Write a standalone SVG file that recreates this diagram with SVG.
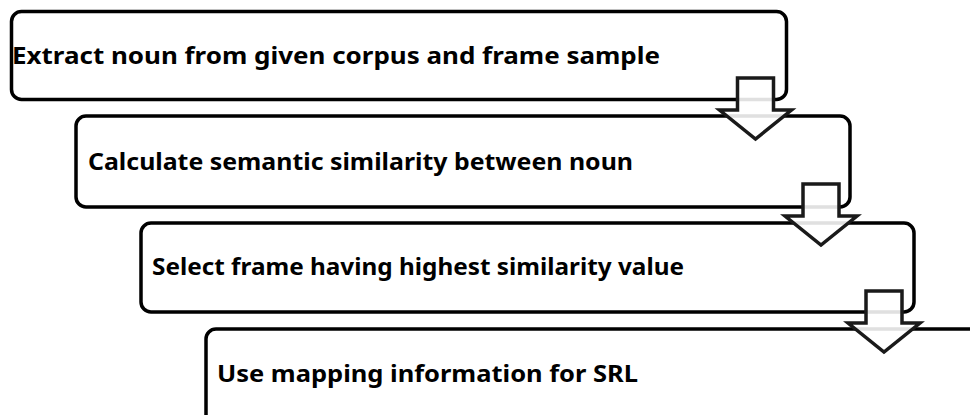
<svg xmlns="http://www.w3.org/2000/svg" xmlns:xlink="http://www.w3.org/1999/xlink" width="970" height="415" viewBox="0 0 970 415">
  <style>
    .step { fill: #ffffff; stroke: #000000; stroke-width: 3.5; }
    .label { font-family: "Noto Sans", "Open Sans", "Liberation Sans", sans-serif; font-weight: bold; font-size: 23.5px; fill: #000000; }
    .flow { fill: #ffffff; fill-opacity: 0.88; stroke: #1a1a1a; stroke-width: 3.5; stroke-linejoin: miter; }
  </style>
  <defs>
    <!-- block down-arrow, origin at the top centre of the shaft -->
    <path id="down" d="M-18,0 H18 V32 H36 L0,61 L-36,32 H-18 Z"/>
  </defs>

  <g id="step1">
    <rect class="step" x="11.5" y="11.5" width="775" height="88" rx="10"/>
    <text class="label" x="12" y="64" textLength="648" lengthAdjust="spacingAndGlyphs">Extract noun from given corpus and frame sample</text>
  </g>

  <g id="step2">
    <rect class="step" x="76" y="116" width="774" height="91" rx="10"/>
    <text class="label" x="88" y="170" textLength="545" lengthAdjust="spacingAndGlyphs">Calculate semantic similarity between noun</text>
  </g>

  <g id="step3">
    <rect class="step" x="141" y="223" width="773" height="89" rx="10"/>
    <text class="label" x="152" y="275" textLength="532" lengthAdjust="spacingAndGlyphs">Select frame having highest similarity value</text>
  </g>

  <g id="step4">
    <rect class="step" x="206" y="329" width="800" height="140" rx="10"/>
    <text class="label" x="217" y="382" textLength="421" lengthAdjust="spacingAndGlyphs">Use mapping information for SRL</text>
  </g>

  <g id="connectors">
    <use xlink:href="#down" class="flow" transform="translate(755.5,78)"/>
    <use xlink:href="#down" class="flow" transform="translate(821,184)"/>
    <use xlink:href="#down" class="flow" transform="translate(884,291)"/>
  </g>
</svg>
